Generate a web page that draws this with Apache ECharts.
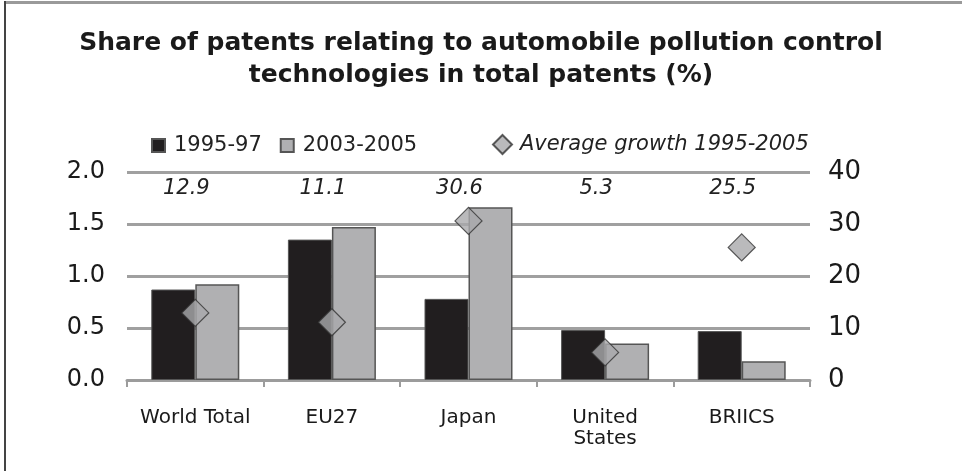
<!DOCTYPE html>
<html>
<head>
<meta charset="utf-8">
<script src="https://cdn.jsdelivr.net/npm/echarts@6/dist/echarts.min.js"></script>
<style>
  html, body { margin: 0; padding: 0; background: #fff; }
  #wrap { position: relative; width: 962px; height: 471px; overflow: hidden; }
  #chart { position: absolute; left: 0; top: 0; width: 962px; height: 471px; }
  #frameTop { position: absolute; left: 5px; top: 1px; width: 957px; height: 3px; background: #9a9a9a; }
  #frameLeft { position: absolute; left: 4px; top: 1px; width: 2px; height: 470px; background: #444; }
</style>
</head>
<body>
<div id="wrap">
  <div id="chart"></div>
  <div id="frameTop"></div>
  <div id="frameLeft"></div>
</div>
<script>
// Share of patents (%) by region
const categories = ['World Total', 'EU27', 'Japan', 'United\nStates', 'BRIICS'];
const share1995 = [0.87, 1.35, 0.78, 0.48, 0.47];
const share2003 = [0.92, 1.47, 1.66, 0.35, 0.18];
// Average growth 1995-2005 (right axis)
const growth = [12.9, 11.1, 30.6, 5.3, 25.5];
const leftTicks = [0, 0.5, 1.0, 1.5, 2.0];
const rightTicks = [0, 10, 20, 30, 40];

const FONT = '"DejaVu Sans", Verdana, sans-serif';

const chart = echarts.init(document.getElementById('chart'), null, { renderer: 'canvas' });

chart.setOption({
  animation: false,
  backgroundColor: '#ffffff',
  textStyle: { fontFamily: FONT },
  title: {
    text: 'Share of patents relating to automobile pollution control\ntechnologies in total patents (%)',
    left: 'center',
    top: 22,
    textStyle: { fontFamily: FONT, fontSize: 25, fontWeight: 'bold', color: '#1a1a1a', lineHeight: 32, align: 'center' }
  },
  legend: [
    {
      top: 130,
      left: 146,
      itemWidth: 13,
      itemHeight: 13,
      itemGap: 18,
      textStyle: { fontFamily: FONT, fontSize: 21, color: '#222', padding: [0, 0, 0, 4] },
      data: [
        { name: '1995-97', icon: 'rect' },
        { name: '2003-2005', icon: 'rect' }
      ]
    },
    {
      top: 129,
      left: 487,
      itemWidth: 19,
      itemHeight: 19,
      textStyle: { fontFamily: FONT, fontSize: 21, color: '#222', fontStyle: 'italic', padding: [0, 0, 0, 3] },
      data: [
        { name: 'Average growth 1995-2005', icon: 'diamond' }
      ]
    }
  ],
  grid: { left: 127, right: 152, top: 172, bottom: 91 },
  xAxis: [
    {
      type: 'category',
      data: categories,
      axisLine: { show: true, lineStyle: { color: '#9c9c9c', width: 3 } },
      axisTick: { show: true, interval: 0, length: 7, lineStyle: { color: '#9c9c9c', width: 2 } },
      axisLabel: { interval: 0, fontFamily: FONT, fontSize: 20, color: '#1a1a1a', margin: 27, lineHeight: 21 }
    },
    {
      type: 'category',
      position: 'top',
      data: categories,
      axisLine: { show: false },
      axisTick: { show: false },
      axisLabel: {
        interval: 0,
        inside: true,
        margin: 6,
        fontFamily: FONT,
        fontSize: 21,
        fontStyle: 'italic',
        color: '#222',
        padding: [0, 18, 0, 0],
        formatter: (v, i) => growth[i].toFixed(1)
      }
    }
  ],
  yAxis: [
    {
      type: 'value',
      min: leftTicks[0],
      max: leftTicks[leftTicks.length - 1],
      interval: 0.5,
      axisLine: { show: false },
      axisTick: { show: false },
      axisLabel: { fontFamily: FONT, fontSize: 24, color: '#1a1a1a', margin: 22, formatter: v => v.toFixed(1) },
      splitLine: { show: true, lineStyle: { color: '#a0a0a0', width: 3 } }
    },
    {
      type: 'value',
      min: rightTicks[0],
      max: rightTicks[rightTicks.length - 1],
      interval: 10,
      axisLine: { show: false },
      axisTick: { show: false },
      axisLabel: { fontFamily: FONT, fontSize: 26, color: '#1a1a1a', margin: 18 },
      splitLine: { show: false }
    }
  ],
  series: [
    {
      name: '1995-97',
      type: 'bar',
      data: share1995,
      barWidth: 44,
      barGap: '0%',
      itemStyle: { color: '#211e1f', borderColor: '#555', borderWidth: 1 }
    },
    {
      name: '2003-2005',
      type: 'bar',
      data: share2003,
      barWidth: 44,
      barGap: '0%',
      itemStyle: { color: '#b0b0b2', borderColor: '#555', borderWidth: 1.5 }
    },
    {
      name: 'Average growth 1995-2005',
      type: 'scatter',
      yAxisIndex: 1,
      data: growth,
      symbol: 'diamond',
      symbolSize: 27,
      z: 5,
      itemStyle: { color: '#a9a9ab', borderColor: '#333', borderWidth: 1.2 }
    }
  ]
});
</script>
</body>
</html>
